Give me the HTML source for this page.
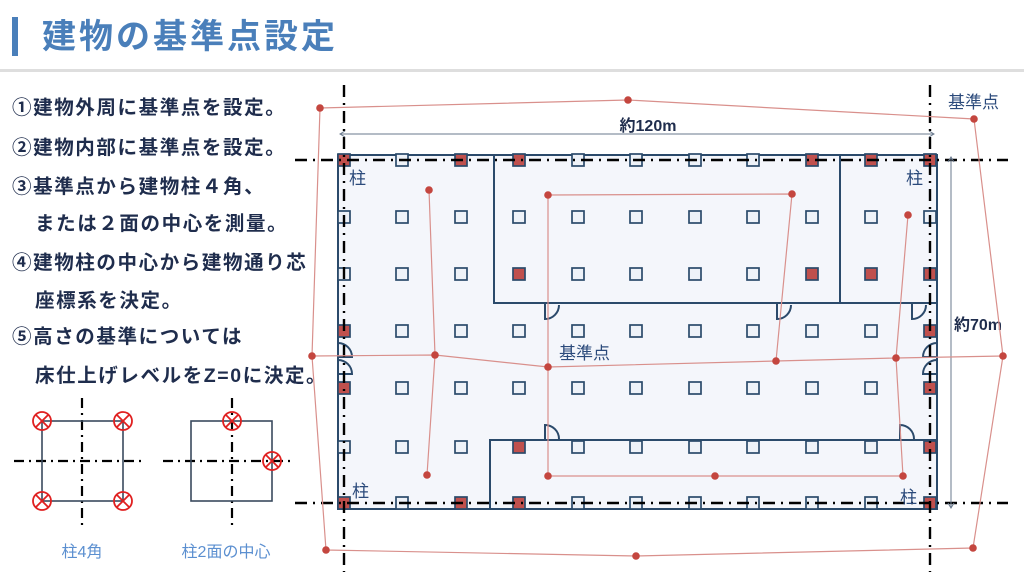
<!DOCTYPE html>
<html><head><meta charset="utf-8"><style>
body{margin:0;background:#fff;}
svg{display:block;}
.t{font-family:"Liberation Sans","Noto Sans CJK JP",sans-serif;}
</style></head><body>
<svg width="1024" height="576" viewBox="0 0 1024 576" xmlns="http://www.w3.org/2000/svg">
<defs>
<rect id="w" x="-6" y="-6" width="12" height="12" fill="#eef2f8" stroke="#2b4a6b" stroke-width="1.7"/>
<rect id="r" x="-6" y="-6" width="12" height="12" fill="#c0504d" stroke="#2b4a6b" stroke-width="1.7"/>
<circle id="p" r="3.8" fill="#c4463f"/>
<g id="x" stroke="#e02020" stroke-width="1.8" fill="none"><circle r="9"/><line x1="-6.4" y1="-6.4" x2="6.4" y2="6.4"/><line x1="-6.4" y1="6.4" x2="6.4" y2="-6.4"/></g>
</defs>
<rect x="0" y="0" width="1024" height="576" fill="#fff"/>
<rect x="12" y="17" width="6" height="39" fill="#4a7fba"/>
<text class="t" x="42" y="48" font-size="34" font-weight="bold" fill="#4a7fba" letter-spacing="3">建物の基準点設定</text>
<rect x="0" y="69" width="1024" height="3" fill="#dedede"/>

<g class="t" font-size="19.5" font-weight="bold" fill="#1f2d4d" letter-spacing="1.6">
<text x="12" y="114">①建物外周に基準点を設定。</text>
<text x="12" y="154">②建物内部に基準点を設定。</text>
<text x="12" y="193">③基準点から建物柱４角、</text>
<text x="35" y="230">または２面の中心を測量。</text>
<text x="12" y="269">④建物柱の中心から建物通り芯</text>
<text x="35" y="307">座標系を決定。</text>
<text x="12" y="343">⑤高さの基準については</text>
<text x="35" y="382">床仕上げレベルをZ=0に決定。</text>
</g>

<g stroke="#000" stroke-width="2.2" stroke-dasharray="10,5,2,5" fill="none">
<line x1="14" y1="461" x2="146" y2="461"/><line x1="82" y1="398" x2="82" y2="530"/>
<line x1="163" y1="461" x2="295" y2="461"/><line x1="232" y1="398" x2="232" y2="530"/>
</g>
<rect x="42" y="421" width="81" height="80" fill="none" stroke="#3a4a5e" stroke-width="1.6"/>
<rect x="191" y="421" width="81" height="80" fill="none" stroke="#3a4a5e" stroke-width="1.6"/>
<use href="#x" x="42" y="421"/><use href="#x" x="123" y="421"/><use href="#x" x="42" y="501"/><use href="#x" x="123" y="501"/>
<use href="#x" x="232" y="421"/><use href="#x" x="272" y="461"/>
<text class="t" x="82" y="557" font-size="16" fill="#5b8fd0" text-anchor="middle">柱4角</text>
<text class="t" x="226" y="557" font-size="16" fill="#5b8fd0" text-anchor="middle">柱2面の中心</text>

<rect x="338" y="155" width="599" height="354" fill="#f4f6fb" stroke="#2b4a6b" stroke-width="2"/>
<g stroke="#2b4a6b" stroke-width="2" fill="none">
<polyline points="494,155 494,303 937,303"/>
<line x1="840" y1="155" x2="840" y2="303"/>
<polyline points="490,509 490,440 937,440"/>
<path d="M545,303 v16 a14,14 0 0 0 14,-14"/>
<path d="M777,303 v16 a14,14 0 0 0 14,-14"/>
<path d="M912,303 v16 a14,14 0 0 0 14,-14"/>
<path d="M545,440 v-15 a14,14 0 0 1 14,14"/>
<path d="M900,440 v-15 a14,14 0 0 1 14,14"/>
<path d="M338,343 a14,14 0 0 1 14,14 h-14"/>
<path d="M338,360 a14,14 0 0 1 14,14 h-14"/>
<path d="M937,343 a14,14 0 0 0 -14,14 h14"/>
<path d="M937,360 a14,14 0 0 0 -14,14 h14"/>
</g>

<g>
<use href="#r" x="344" y="160"/><use href="#w" x="402" y="160"/><use href="#r" x="461" y="160"/><use href="#r" x="519" y="160"/><use href="#w" x="578" y="160"/><use href="#w" x="636" y="160"/><use href="#w" x="695" y="160"/><use href="#w" x="753" y="160"/><use href="#r" x="812" y="160"/><use href="#r" x="871" y="160"/><use href="#r" x="930" y="160"/>
<use href="#w" x="344" y="217"/><use href="#w" x="402" y="217"/><use href="#w" x="461" y="217"/><use href="#w" x="519" y="217"/><use href="#w" x="578" y="217"/><use href="#w" x="636" y="217"/><use href="#w" x="695" y="217"/><use href="#w" x="753" y="217"/><use href="#w" x="812" y="217"/><use href="#w" x="871" y="217"/><use href="#w" x="930" y="217"/>
<use href="#w" x="344" y="274"/><use href="#w" x="402" y="274"/><use href="#w" x="461" y="274"/><use href="#r" x="519" y="274"/><use href="#w" x="578" y="274"/><use href="#w" x="636" y="274"/><use href="#w" x="695" y="274"/><use href="#w" x="753" y="274"/><use href="#r" x="812" y="274"/><use href="#r" x="871" y="274"/><use href="#r" x="930" y="274"/>
<use href="#r" x="344" y="331"/><use href="#w" x="402" y="331"/><use href="#w" x="461" y="331"/><use href="#w" x="519" y="331"/><use href="#w" x="578" y="331"/><use href="#w" x="636" y="331"/><use href="#w" x="695" y="331"/><use href="#w" x="753" y="331"/><use href="#w" x="812" y="331"/><use href="#w" x="871" y="331"/><use href="#r" x="930" y="331"/>
<use href="#r" x="344" y="388"/><use href="#w" x="402" y="388"/><use href="#w" x="461" y="388"/><use href="#w" x="519" y="388"/><use href="#w" x="578" y="388"/><use href="#w" x="636" y="388"/><use href="#w" x="695" y="388"/><use href="#w" x="753" y="388"/><use href="#w" x="812" y="388"/><use href="#w" x="871" y="388"/><use href="#r" x="930" y="388"/>
<use href="#w" x="344" y="447"/><use href="#w" x="402" y="447"/><use href="#w" x="461" y="447"/><use href="#r" x="519" y="447"/><use href="#w" x="578" y="447"/><use href="#w" x="636" y="447"/><use href="#w" x="695" y="447"/><use href="#w" x="753" y="447"/><use href="#w" x="812" y="447"/><use href="#w" x="871" y="447"/><use href="#r" x="930" y="447"/>
<use href="#r" x="344" y="503"/><use href="#w" x="402" y="503"/><use href="#r" x="461" y="503"/><use href="#r" x="519" y="503"/><use href="#w" x="578" y="503"/><use href="#w" x="636" y="503"/><use href="#w" x="695" y="503"/><use href="#w" x="753" y="503"/><use href="#w" x="812" y="503"/><use href="#w" x="871" y="503"/><use href="#r" x="930" y="503"/>
</g>

<g stroke="#000" stroke-width="2.4" stroke-dasharray="12,6,2,6" fill="none">
<line x1="295" y1="160" x2="1008" y2="160"/>
<line x1="295" y1="503" x2="1008" y2="503"/>
<line x1="344" y1="85" x2="344" y2="572"/>
<line x1="930" y1="85" x2="930" y2="572"/>
</g>

<g stroke="#6a7a8e" stroke-width="1" fill="none">
<line x1="340" y1="134" x2="934" y2="134"/>
<polyline points="345,131 340,134 345,137"/><polyline points="929,131 934,134 929,137"/>
<line x1="951" y1="157" x2="951" y2="508"/>
<polyline points="948,162 951,157 954,162"/><polyline points="948,503 951,508 954,503"/>
</g>
<text class="t" x="648" y="131" font-size="16" font-weight="bold" fill="#1f2d4d" text-anchor="middle">約120m</text>
<text class="t" x="978" y="330" font-size="16" font-weight="bold" fill="#1f2d4d" text-anchor="middle">約70m</text>

<g stroke="#d9908c" stroke-width="1.2" fill="none">
<polygon points="320,108 628,100 974,119 1003,356 973,548 636,556 326,550 312,356"/>
<polyline points="429,190 435,355 427,475"/>
<polyline points="312,356 435,355 548,367 776,361 896,358 1003,356"/>
<polyline points="548,195 792,194 776,361"/>
<polyline points="548,195 548,476 715,476 903,476 896,358 908,215"/>
</g>
<g>
<use href="#p" x="320" y="108"/><use href="#p" x="628" y="100"/><use href="#p" x="974" y="119"/><use href="#p" x="1003" y="356"/><use href="#p" x="973" y="548"/><use href="#p" x="636" y="556"/><use href="#p" x="326" y="550"/><use href="#p" x="312" y="356"/>
<use href="#p" x="429" y="190"/><use href="#p" x="435" y="355"/><use href="#p" x="427" y="475"/><use href="#p" x="548" y="367"/><use href="#p" x="776" y="361"/><use href="#p" x="896" y="358"/><use href="#p" x="548" y="195"/><use href="#p" x="792" y="194"/><use href="#p" x="548" y="476"/><use href="#p" x="715" y="476"/><use href="#p" x="903" y="476"/><use href="#p" x="908" y="215"/>
</g>

<g class="t" font-size="17" fill="#2b4a7b">
<text x="349" y="184">柱</text>
<text x="906" y="184">柱</text>
<text x="352" y="497">柱</text>
<text x="900" y="503">柱</text>
<text x="559" y="359">基準点</text>
<text x="948" y="108">基準点</text>
</g>
</svg>
</body></html>
